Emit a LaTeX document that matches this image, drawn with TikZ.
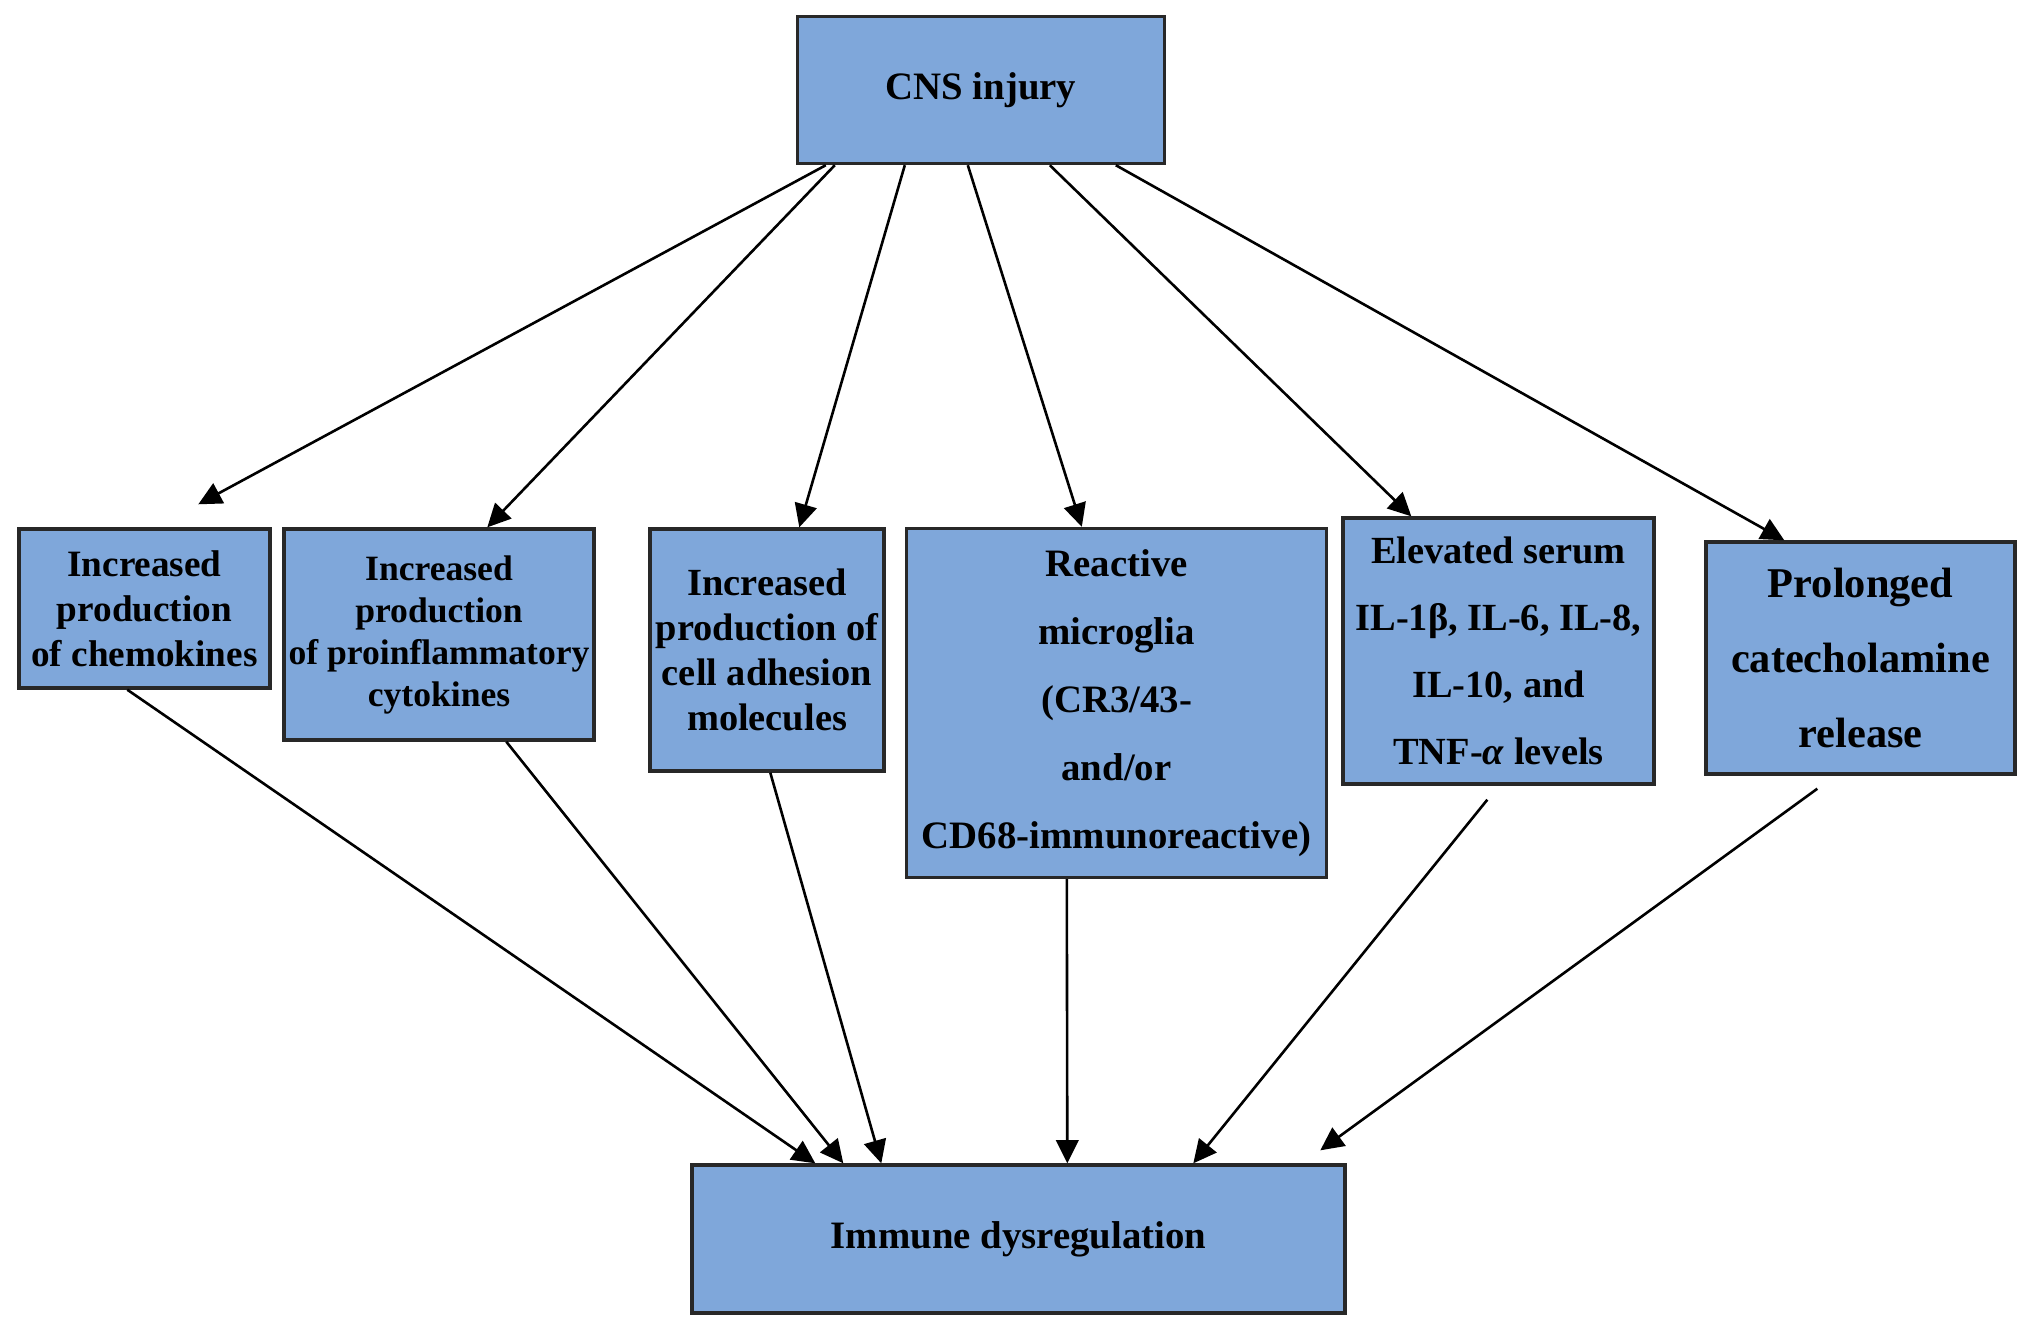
\documentclass[tikz,border=0pt]{standalone}
\usepackage{fontspec}
\setmainfont{Liberation Serif}
\usetikzlibrary{arrows.meta,calc}
\definecolor{boxfill}{RGB}{127,167,218}
\definecolor{boxline}{RGB}{40,40,40}
\begin{document}
\begin{tikzpicture}[x=0.25pt,y=-0.25pt,
  box/.style={draw=boxline, fill=boxfill, line width=0.85pt, inner sep=0pt, align=center, text=black},
  arr/.style={-{Triangle[length=5.8pt,width=5.6pt]}, line width=0.65pt, draw=black}]
\useasboundingbox (0,0) rectangle (2032,1328);
\fill[white] (0,0) rectangle (2032,1328);
% nodes
\node[box, minimum width=91.75pt, minimum height=36.75pt, font=\bfseries\fontsize{9.7}{11.5}\selectfont] (cns) at (981,90) {CNS injury};
\node[box, minimum width=62.75pt, minimum height=39.75pt, font=\bfseries\fontsize{9.3}{11.25}\selectfont] (b1) at (144.5,608.5) {Increased\\production\\of chemokines};
\node[box, minimum width=77.5pt, minimum height=52.75pt, font=\bfseries\fontsize{8.9}{10.5}\selectfont] (b2) at (439,634.5) {Increased\\production\\of proinflammatory\\cytokines};
\node[box, minimum width=58.5pt, minimum height=60.5pt, font=\bfseries\fontsize{9.6}{11.25}\selectfont] (b3) at (767,650) {Increased\\production of\\cell adhesion\\molecules};
\node[box, minimum width=105pt, minimum height=87.25pt, font=\bfseries\fontsize{9.7}{17}\selectfont] (b4) at (1116.5,703) {Reactive\\microglia\\(CR3/43-\\and/or\\CD68-immunoreactive)};
\node[box, minimum width=77.75pt, minimum height=66.5pt, font=\bfseries\fontsize{9.6}{16.75}\selectfont] (b5) at (1498.5,651) {Elevated serum\\IL-1β, IL-6, IL-8,\\IL-10, and\\TNF-\textit{α} levels};
\node[box, minimum width=77.25pt, minimum height=58pt, font=\bfseries\fontsize{10.6}{18.75}\selectfont] (b6) at (1860.5,658) {Prolonged\\catecholamine\\release};
\node[box, minimum width=163.25pt, minimum height=37pt, font=\bfseries\fontsize{9.7}{11.5}\selectfont] (imm) at (1018.5,1239) {Immune dysregulation};
% arrows from CNS injury
\draw[arr] ($(cns.south west)+(30,0)$) -- ($(b1.north west)+(181,-23)$);
\draw[arr] ($(cns.south west)+(39,0)$) -- ($(b2.north west)+(205,0)$);
\draw[arr] ($(cns.south west)+(109,0)$) -- ($(b3.north west)+(151,0)$);
\draw[arr] ($(cns.south west)+(172,0)$) -- ($(b4.north west)+(177,0)$);
\draw[arr] ($(cns.south west)+(254,0)$) -- ($(b5.north west)+(70,0)$);
\draw[arr] ($(cns.south west)+(320,0)$) -- ($(b6.north west)+(80,0)$);
% arrows to Immune dysregulation
\draw[arr] ($(b1.south west)+(110,0)$) -- ($(imm.north west)+(125,0)$);
\draw[arr] ($(b2.south west)+(224,0)$) -- ($(imm.north west)+(153,0)$);
\draw[arr] ($(b3.south west)+(122,0)$) -- ($(imm.north west)+(191,0)$);
\draw[arr] ($(b4.south west)+(162,0)$) -- ($(imm.north west)+(377,0)$);
\draw[arr] ($(b5.south west)+(146,14)$) -- ($(imm.north west)+(503,0)$);
\draw[arr] ($(b6.south west)+(113,13)$) -- ($(imm.north west)+(630,-13)$);
\end{tikzpicture}
\end{document}
